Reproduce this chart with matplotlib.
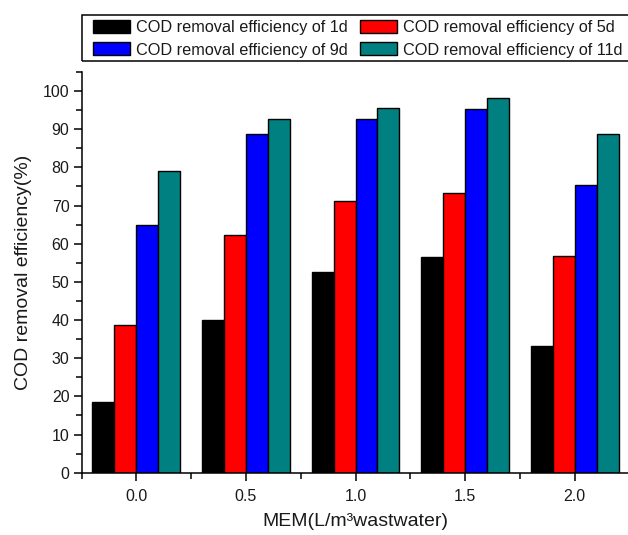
import matplotlib
matplotlib.use("Agg")
import matplotlib.pyplot as plt
from matplotlib.patches import Rectangle
from matplotlib.ticker import MultipleLocator
import numpy as np

plt.rcParams['font.family'] = ['Liberation Sans', 'DejaVu Sans']

# MEM dosage (L/m3 wastewater)
mem = [0.0, 0.5, 1.0, 1.5, 2.0]
eff_1d = [18.5, 40.0, 52.6, 56.5, 33.2]
eff_5d = [38.8, 62.4, 71.2, 73.3, 56.9]
eff_9d = [64.9, 88.8, 92.6, 95.2, 75.4]
eff_11d = [79.1, 92.6, 95.5, 98.1, 88.7]
labels = ['COD removal efficiency of 1d', 'COD removal efficiency of 5d',
          'COD removal efficiency of 9d', 'COD removal efficiency of 11d']
colors = ['#000000', '#ff0000', '#0000ff', '#008080']

W, H = 628, 535
fig = plt.figure(figsize=(W / 100, H / 100), dpi=100)
ax = fig.add_axes([81.5 / W, 1 - 472.7 / H, 548 / W, (472.7 - 72) / H])

txt = '#1a1a1a'
series = [eff_1d, eff_5d, eff_9d, eff_11d]
w = 0.1
x = np.array(mem)
bars = []
for i, (vals, c) in enumerate(zip(series, colors)):
    b = ax.bar(x + (i - 1.5) * w, vals, width=w, color=c,
               edgecolor='black', linewidth=1.0, zorder=2)
    bars.append(b)

ax.set_xlim(-0.25, 2.25)
ax.set_ylim(0, 105)
ax.xaxis.set_major_locator(MultipleLocator(0.5))
ax.xaxis.set_minor_locator(MultipleLocator(0.25))
ax.yaxis.set_major_locator(MultipleLocator(10))
ax.yaxis.set_minor_locator(MultipleLocator(5))
ax.set_yticks(np.arange(0, 101, 10))
ax.set_xticks(mem)
ax.set_xticklabels(['%.1f' % v for v in mem])

for s in ['top', 'right']:
    ax.spines[s].set_visible(False)
for s in ['left', 'bottom']:
    ax.spines[s].set_linewidth(1.1)

ax.tick_params(which='major', direction='out', length=6, width=1.1,
               labelsize=11.5, labelcolor=txt, pad=2.7)
ax.tick_params(which='minor', direction='out', length=4, width=1.1)
ax.tick_params(axis='x', which='major', pad=6)

ax.set_xlabel('MEM(L/m\u00b3wastwater)', fontsize=14, color=txt, labelpad=6)
ax.set_ylabel('COD removal efficiency(%)', fontsize=14, color=txt, labelpad=8)

# legend frame drawn by hand so the padding matches
fig.patches.append(Rectangle((81.7 / W, 1 - 61 / H), (640 - 81.7) / W, 46 / H,
                             transform=fig.transFigure, fill=False,
                             edgecolor='black', linewidth=1.1))
# ncol fills column-wise: 1d/9d in column one, 5d/11d in column two
order = [0, 2, 1, 3]
leg = fig.legend([bars[i] for i in order], [labels[i] for i in order],
                 ncol=2, loc='upper left',
                 bbox_to_anchor=(93.3 / W, 1 - 20 / H), frameon=False,
                 borderpad=0, borderaxespad=0, fontsize=11.7,
                 handlelength=2.25, handleheight=0.85, handletextpad=0.35,
                 columnspacing=0.8, labelspacing=0.45)
for t in leg.get_texts():
    t.set_color(txt)

fig.savefig('out.png', dpi=100)
